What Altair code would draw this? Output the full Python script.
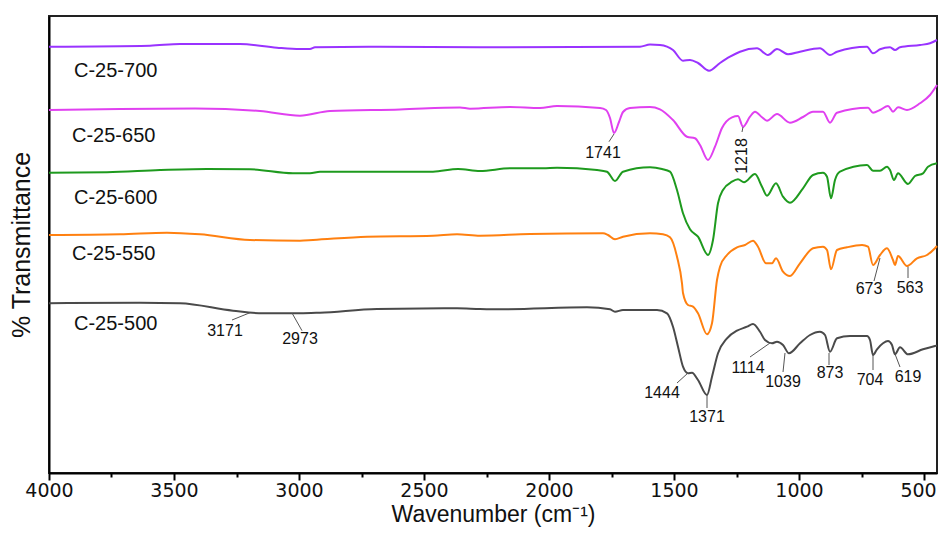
import altair as alt
import pandas as pd

# ---------------- data ----------------
series_names = ["C-25-700", "C-25-650", "C-25-600", "C-25-550", "C-25-500"]
series_colors = ["#9933FF", "#E040F0", "#1E9A1E", "#FF8010", "#4A4A4A"]

wn_700 = [4000, 3596, 3476, 3236, 3088, 2996, 2956, 2936, 2676, 2276, 1636, 1596, 1556, 1504, 1464,
          1436, 1404, 1360, 1316, 1276, 1236, 1168, 1124, 1088, 1044, 996, 916, 876, 848, 728, 704,
          676, 636, 616, 596, 516, 476, 448]
t_700 = [426.3, 427.3, 429, 429, 425.3, 424, 424, 425.7, 426.3, 425.7, 426.3, 428.5, 428, 423, 412.3,
         413, 410, 402.3, 410, 416.3, 421.3, 424.7, 418, 424, 418.7, 421.3, 424.7, 418, 421.3, 426.3, 419.7,
         423.7, 425.7, 423, 425.7, 428, 429.7, 433]

wn_650 = [4000, 3716, 3416, 3156, 2996, 2876, 2596, 2356, 2316, 2156, 2036, 1968, 1796, 1772, 1756,
          1740, 1720, 1704, 1676, 1596, 1556, 1504, 1448, 1416, 1396, 1364, 1336, 1308, 1268, 1244,
          1224, 1196, 1176, 1148, 1128, 1088, 1036, 984, 944, 904, 876, 848, 724, 704, 676, 644, 624,
          604, 568, 516, 476, 448]
t_650 = [363, 364, 364.5, 362, 357.3, 362, 363.5, 365.5, 364.3, 366, 365, 367, 365, 363, 355,
         340, 351, 361, 365, 366, 363.7, 353, 336.3, 334.7, 328, 313, 326.3, 345, 355.7, 357,
         346.3, 356.3, 361.3, 355.7, 352.3, 359, 350.3, 356, 361.3, 361.3, 350.3, 360.3, 365.3, 360.3, 363, 367, 361.3,
         365.7, 363, 369.7, 378, 388]

wn_600 = [4000, 3768, 3556, 3368, 3196, 3024, 2956, 2916, 2464, 2364, 2276, 2156, 2024, 1968, 1808,
          1768, 1736, 1704, 1596, 1548, 1516, 1488, 1464, 1436, 1404, 1364, 1344, 1324, 1304, 1268,
          1244, 1220, 1176, 1148, 1128, 1092, 1064, 1036, 984, 944, 904, 888, 872, 856, 836, 728, 704,
          676, 648, 636, 620, 604, 564, 536, 504, 484, 448]
t_600 = [300.3, 300.7, 303, 304, 303.7, 299.7, 299.7, 301.3, 301.3, 304, 302, 304.7, 304.7, 305.3, 303,
         301.3, 292, 301.3, 305.7, 304, 301.3, 283, 259.7, 243.7, 236.3, 218, 233, 269.7, 283, 291.3,
         293.7, 290.7, 299, 286.3, 277.3, 289.7, 276.3, 270.3, 284.7, 298, 300.3, 296.3, 274.7, 293, 301.3, 308, 302.3,
         302.3, 306.3, 303, 293, 299.7, 289, 297, 299.7, 306.3, 309.7]

wn_550 = [4000, 3716, 3528, 3396, 3196, 2996, 2944, 2728, 2464, 2368, 2276, 2076, 1784, 1764, 1736,
          1704, 1596, 1544, 1516, 1488, 1468, 1464, 1444, 1424, 1404, 1368, 1348, 1328, 1316, 1288,
          1248, 1216, 1184, 1164, 1132, 1108, 1092, 1064, 1036, 996, 944, 904, 888, 872, 848, 808, 748,
          724, 704, 676, 648, 624, 616, 604, 568, 528, 488, 456, 448]
t_550 = [238, 238.7, 240.3, 238.7, 233, 232.3, 233, 236.3, 237.3, 238.7, 237.3, 239, 239.7, 238, 233.7,
         236.3, 239.7, 238.7, 235.7, 216.3, 189.7, 180, 168, 166.3, 159.7, 138.7, 149.7, 193, 206.3, 218,
         225.7, 228, 232.3, 226.3, 209.7, 209.7, 214.7, 201.3, 197, 209.7, 224.7, 226.3, 223, 203.7, 223, 225.7, 228,
         226.3, 208, 218, 224.7, 213, 208, 217, 207, 214.7, 218, 224.7, 227]

wn_500 = [4000, 3636, 3476, 3264, 3144, 2996, 2916, 2688, 2368, 2276, 2184, 1848, 1756, 1736, 1704,
          1568, 1528, 1504, 1484, 1464, 1444, 1428, 1404, 1368, 1348, 1324, 1288, 1248, 1208, 1184,
          1156, 1136, 1108, 1088, 1064, 1040, 996, 956, 916, 896, 876, 848, 796, 728, 716, 704, 688,
          664, 644, 628, 616, 596, 564, 504, 456, 448]
t_500 = [169.7, 170.3, 169.7, 162.3, 159.7, 159.7, 160.3, 164, 164.7, 164, 163.7, 165.7, 163.7, 161.3, 163,
         163, 159.7, 146.3, 126.3, 106.3, 99.7, 100.3, 93, 78, 96.3, 119.7, 134.7, 142.3, 146.3, 149,
         141.3, 133, 129.7, 131.3, 128, 119.7, 129.7, 138, 141.3, 138, 121.3, 134.7, 137, 137, 133, 118, 123.7,
         129.7, 132, 128, 118.7, 125.7, 118.7, 123.7, 127, 127.5]

# peak annotations
peak_text = ["3171", "2973", "1741", "673", "563", "1444", "1371", "1114", "1039", "873", "704", "619"]
peak_text_wn = [3296, 2996, 1784, 720, 556, 1548, 1368, 1204, 1064, 876, 716, 564]
peak_text_t = [142, 134, 320, 184, 185, 80, 56, 105, 91, 100, 93, 96]
lead_wn1 = [3268, 3028, 1760, 700, 564, 1488, 1368, 1196, 1056, 880, 704, 616]
lead_t1 = [153, 160, 331.3, 192, 206.3, 90, 78, 116, 120, 120, 118, 119]
lead_wn2 = [3196, 2988, 1740, 676, 564, 1444, 1368, 1116, 1064, 880, 704, 596]
lead_t2 = [160.3, 142.3, 339, 215, 195, 100, 65, 130, 101, 108, 103, 106]

rot_text = ["1218"]
rot_text_wn = [1228]
rot_text_t = [317]
rot_lead_wn1 = [1228]
rot_lead_t1 = [341]
rot_lead_wn2 = [1224]
rot_lead_t2 = [346]

series_label_wn = [3900, 3908, 3900, 3908, 3900]
series_label_t = [402, 337, 275, 219, 149]

x_ticks = [4000, 3750, 3500, 3250, 3000, 2750, 2500, 2250, 2000, 1750, 1500, 1250, 1000, 750, 500]

# ---------------- tables ----------------
rows = []
for name, wns, ts in zip(series_names,
                         [wn_700, wn_650, wn_600, wn_550, wn_500],
                         [t_700, t_650, t_600, t_550, t_500]):
    for w, t in zip(wns, ts):
        rows.append({"series": name, "wn": w, "t": t})
df = pd.DataFrame(rows)

df_lead = pd.DataFrame({"wn1": lead_wn1 + rot_lead_wn1, "t1": lead_t1 + rot_lead_t1,
                        "wn2": lead_wn2 + rot_lead_wn2, "t2": lead_t2 + rot_lead_t2})
df_peak = pd.DataFrame({"label": peak_text, "wn": peak_text_wn, "t": peak_text_t})
df_rot = pd.DataFrame({"label": rot_text, "wn": rot_text_wn, "t": rot_text_t})
df_series = pd.DataFrame({"label": series_names, "wn": series_label_wn, "t": series_label_t})

# ---------------- scales / axes ----------------
xscale = alt.Scale(domain=[448, 4000], reverse=True, nice=False, zero=False)
yscale = alt.Scale(domain=[0, 457], nice=False, zero=False)

xaxis = alt.Axis(
    values=x_ticks,
    labelExpr="datum.value % 500 === 0 ? '' + datum.value : ''",
    tickSize={"condition": {"test": "datum.value % 500 === 0", "value": 7}, "value": 4},
    labelOffset={"condition": {"test": "datum.value === 500", "value": -6}, "value": 0},
    tickWidth=2, tickColor="black",
    domainColor="black", domainWidth=2,
    labelFont="DejaVu Sans", labelFontSize=19, labelColor="#111", labelPadding=1,
    labelFlush=False, grid=False,
    title="Wavenumber (cm⁻¹)", titleFont="Liberation Sans", titleFontSize=23,
    titleFontWeight="normal", titleColor="#111", titlePadding=3,
)
yaxis = alt.Axis(
    labels=False, ticks=False, grid=False,
    domainColor="black", domainWidth=2,
    title="% Transmittance", titleFont="Liberation Sans", titleFontSize=25,
    titleFontWeight="normal", titleColor="#111", titlePadding=15,
)


def X(field):
    return alt.X(field, type="quantitative", scale=xscale, axis=xaxis)


def Y(field):
    return alt.Y(field, type="quantitative", scale=yscale, axis=yaxis)


lines = alt.Chart(df).mark_line(strokeWidth=2, interpolate="monotone").encode(
    x=X("wn"), y=Y("t"),
    color=alt.Color("series:N", scale=alt.Scale(domain=series_names, range=series_colors), legend=None),
)

leaders = alt.Chart(df_lead).mark_rule(color="#555555", strokeWidth=1).encode(
    x=X("wn1"), x2=alt.X2("wn2"), y=Y("t1"), y2=alt.Y2("t2")
)

peaks = alt.Chart(df_peak).mark_text(font="Liberation Sans", fontSize=16, color="#111",
                                     align="center", baseline="middle").encode(
    x=X("wn"), y=Y("t"), text="label:N"
)

rot = alt.Chart(df_rot).mark_text(font="Liberation Sans", fontSize=16, color="#111",
                                  align="center", baseline="middle", angle=270).encode(
    x=X("wn"), y=Y("t"), text="label:N"
)

slabels = alt.Chart(df_series).mark_text(font="Liberation Sans", fontSize=20, color="#111",
                                         align="left", baseline="middle").encode(
    x=X("wn"), y=Y("t"), text="label:N"
)

chart = alt.layer(lines, leaders, peaks, rot, slabels).properties(
    width=888, height=457,
    autosize=alt.AutoSizeParams(type="none"),
    padding={"left": 41, "top": 8, "right": 2, "bottom": 56},
).configure_view(stroke="#222222", strokeWidth=2)

chart.save("out.html", embed_options={"renderer": "svg", "actions": False})
